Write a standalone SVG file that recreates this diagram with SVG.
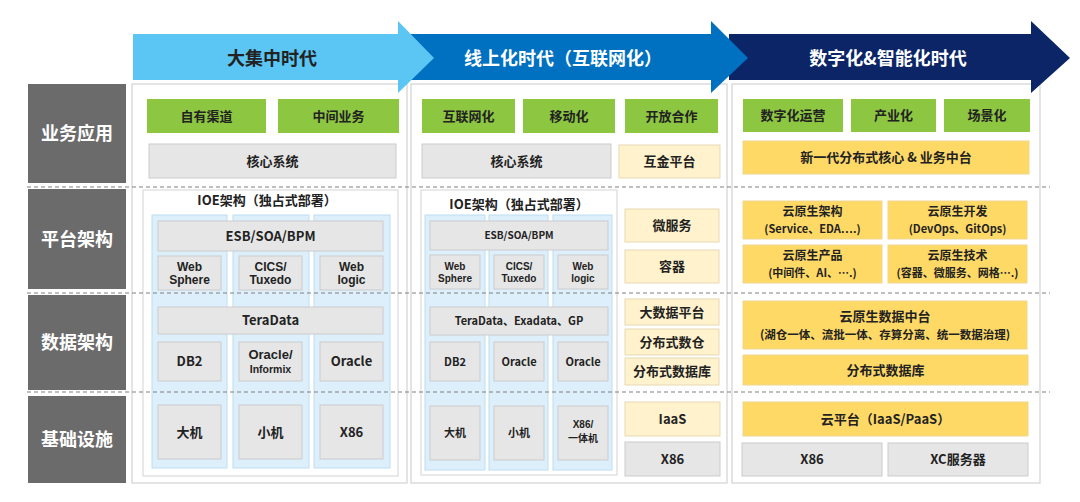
<svg xmlns="http://www.w3.org/2000/svg" width="1080" height="502" viewBox="0 0 1080 502">
<style>
 text{font-family:"Noto Sans CJK SC","Noto Sans",sans-serif;font-weight:700;fill:#222;text-anchor:middle}
 .lat{font-family:"Liberation Sans",Arial,sans-serif}
 .w{fill:#fff}
 .s18{font-size:18px}
 .s13{font-size:13px}
 .s12{font-size:12px}
 .s11{font-size:11px}
 .s10{font-size:10px}
 .n10{font-size:10px;font-weight:600}
 .panel{fill:#fff;stroke:#D3D3D3;stroke-width:1.2}
 .lab{fill:#6B6B6B}
 .g{fill:#8DC641}
 .gr{fill:#E6E6E6;stroke:#CCCCCC}
 .y{fill:#FFD966;stroke:#EDD58F}
 .c{fill:#FFF2CC;stroke:#E6D9B3}
 .lb{fill:#DDEFFB;stroke:#BEDDF2}
 .ioe{fill:#fff;stroke:#D3D3D3}
 .dash{stroke:#808080;stroke-width:1.1;stroke-dasharray:4 3;fill:none}
</style>
<rect x="0" y="0" width="1080" height="502" fill="#fff"/>

<g id="panels">
 <rect class="panel" x="132" y="84" width="275" height="399"/>
 <rect class="panel" x="411" y="84" width="316" height="399"/>
 <rect class="panel" x="732" y="84" width="308" height="399"/>
</g>

<g id="row-labels">
 <g id="row-biz"><rect class="lab" x="28" y="84" width="98" height="99"/><text class="w s18" x="77" y="140">业务应用</text></g>
 <g id="row-platform"><rect class="lab" x="28" y="189" width="98" height="100"/><text class="w s18" x="77" y="245.5">平台架构</text></g>
 <g id="row-data"><rect class="lab" x="28" y="295" width="98" height="95"/><text class="w s18" x="77" y="349">数据架构</text></g>
 <g id="row-infra"><rect class="lab" x="28" y="396" width="98" height="87"/><text class="w s18" x="77" y="446">基础设施</text></g>
</g>

<g id="era1">
 <g id="e1-channel"><rect class="g" x="147" y="99" width="119" height="34"/><text class="s13" x="206.5" y="120.7">自有渠道</text></g>
 <g id="e1-middle"><rect class="g" x="278" y="99" width="121" height="34"/><text class="s13" x="338.5" y="120.7">中间业务</text></g>
 <g id="e1-core"><rect class="gr" x="149" y="144" width="247" height="34"/><text class="s13" x="272.5" y="165.7">核心系统</text></g>
 <g id="e1-ioe">
  <rect class="ioe" x="143" y="190" width="255" height="286"/>
  <text class="s13" x="267" y="205.4">IOE架构（独占式部署）</text>
  <rect class="lb" x="152" y="215" width="75" height="253"/>
  <rect class="lb" x="233" y="215" width="76" height="253"/>
  <rect class="lb" x="314" y="215" width="76" height="253"/>
 </g>
 <g id="e1-esb"><rect class="gr" x="158" y="221" width="225" height="30"/><text class="s13" x="270.5" y="240.7">ESB/SOA/BPM</text></g>
 <g id="e1-websphere"><rect class="gr" x="158" y="256" width="63" height="34"/><text class="lat s12" x="189.5" y="270.5">Web</text><text class="lat s12" x="189.5" y="284">Sphere</text></g>
 <g id="e1-cics"><rect class="gr" x="239" y="256" width="63" height="34"/><text class="lat s12" x="270.5" y="270.5">CICS/</text><text class="lat s12" x="270.5" y="284">Tuxedo</text></g>
 <g id="e1-weblogic"><rect class="gr" x="320" y="256" width="63" height="34"/><text class="lat s12" x="351.5" y="270.5">Web</text><text class="lat s12" x="351.5" y="284">logic</text></g>
 <g id="e1-teradata"><rect class="gr" x="158" y="307" width="225" height="27"/><text class="s13" x="270.5" y="325.2">TeraData</text></g>
 <g id="e1-db2"><rect class="gr" x="158" y="342" width="63" height="39"/><text class="s13" x="189.5" y="366.2">DB2</text></g>
 <g id="e1-oracle-informix"><rect class="gr" x="239" y="342" width="63" height="39"/><text class="lat" x="270.5" y="359" style="font-size:13px">Oracle/</text><text class="lat" x="270.5" y="372.5" style="font-size:10.5px">Informix</text></g>
 <g id="e1-oracle"><rect class="gr" x="320" y="342" width="63" height="39"/><text class="s13" x="351.5" y="366.2">Oracle</text></g>
 <g id="e1-mainframe"><rect class="gr" x="158" y="405" width="63" height="54"/><text class="s13" x="189.5" y="436.7">大机</text></g>
 <g id="e1-mini"><rect class="gr" x="239" y="405" width="63" height="54"/><text class="s13" x="270.5" y="436.7">小机</text></g>
 <g id="e1-x86"><rect class="gr" x="320" y="405" width="63" height="54"/><text class="s13" x="351.5" y="436.7">X86</text></g>
</g>

<g id="era2">
 <g id="e2-internet"><rect class="g" x="422" y="99" width="93" height="34"/><text class="s13" x="468.5" y="120.7">互联网化</text></g>
 <g id="e2-mobile"><rect class="g" x="523" y="99" width="92" height="34"/><text class="s13" x="569" y="120.7">移动化</text></g>
 <g id="e2-open"><rect class="g" x="625" y="99" width="93" height="34"/><text class="s13" x="671.5" y="120.7">开放合作</text></g>
 <g id="e2-core"><rect class="gr" x="422" y="144" width="189" height="34"/><text class="s13" x="516.5" y="165.7">核心系统</text></g>
 <g id="e2-fintech"><rect class="c" x="619" y="145" width="101" height="33"/><text class="s13" x="669.5" y="166.2">互金平台</text></g>
 <g id="e2-ioe">
  <rect class="ioe" x="421" y="190" width="196" height="285"/>
  <text class="s13" x="519" y="208.7">IOE架构（独占式部署）</text>
  <rect class="lb" x="425" y="215" width="60" height="255"/>
  <rect class="lb" x="489" y="215" width="59" height="255"/>
  <rect class="lb" x="553" y="215" width="59" height="255"/>
 </g>
 <g id="e2-esb"><rect class="gr" x="430" y="221" width="178" height="29"/><text class="n10" x="519" y="239.1">ESB/SOA/BPM</text></g>
 <g id="e2-websphere"><rect class="gr" x="430" y="255" width="50" height="34"/><text class="lat s10" x="455" y="270">Web</text><text class="lat s10" x="455" y="281.5">Sphere</text></g>
 <g id="e2-cics"><rect class="gr" x="494" y="255" width="50" height="34"/><text class="lat s10" x="519" y="270">CICS/</text><text class="lat s10" x="519" y="281.5">Tuxedo</text></g>
 <g id="e2-weblogic"><rect class="gr" x="558" y="255" width="50" height="34"/><text class="lat s10" x="583" y="270">Web</text><text class="lat s10" x="583" y="281.5">logic</text></g>
 <g id="e2-teradata"><rect class="gr" x="430" y="307" width="178" height="28"/><text class="s11" x="519" y="325">TeraData、Exadata、GP</text></g>
 <g id="e2-db2"><rect class="gr" x="430" y="342" width="50" height="39"/><text class="s11" x="455" y="365.5">DB2</text></g>
 <g id="e2-oracle1"><rect class="gr" x="494" y="342" width="50" height="39"/><text class="s11" x="519" y="365.5">Oracle</text></g>
 <g id="e2-oracle2"><rect class="gr" x="558" y="342" width="50" height="39"/><text class="s11" x="583" y="365.5">Oracle</text></g>
 <g id="e2-mainframe"><rect class="gr" x="430" y="406" width="50" height="54"/><text class="s11" x="455" y="437">大机</text></g>
 <g id="e2-mini"><rect class="gr" x="494" y="406" width="50" height="54"/><text class="s11" x="519" y="437">小机</text></g>
 <g id="e2-x86aio"><rect class="gr" x="558" y="406" width="50" height="54"/><text class="lat s10" x="583" y="427.5">X86/</text><text class="s10" x="583" y="441.5">一体机</text></g>
 <g id="e2-microservice"><rect class="c" x="625" y="209" width="94" height="33"/><text class="s13" x="672" y="230.2">微服务</text></g>
 <g id="e2-container"><rect class="c" x="625" y="250" width="94" height="33"/><text class="s13" x="672" y="271.2">容器</text></g>
 <g id="e2-bigdata"><rect class="c" x="625" y="299" width="94" height="26"/><text class="s13" x="672" y="316.7">大数据平台</text></g>
 <g id="e2-dw"><rect class="c" x="625" y="329" width="94" height="26"/><text class="s13" x="672" y="346.7">分布式数仓</text></g>
 <g id="e2-ddb"><rect class="c" x="625" y="358" width="94" height="27"/><text class="s13" x="672" y="376.2">分布式数据库</text></g>
 <g id="e2-iaas"><rect class="c" x="625" y="402" width="95" height="34"/><text class="s13" x="672.5" y="423.7">IaaS</text></g>
 <g id="e2-x86"><rect class="gr" x="625" y="442" width="95" height="34"/><text class="s13" x="672.5" y="463.7">X86</text></g>
</g>

<g id="era3">
 <g id="e3-digital-ops"><rect class="g" x="743" y="99" width="100" height="33"/><text class="s13" x="793" y="120.2">数字化运营</text></g>
 <g id="e3-industry"><rect class="g" x="851" y="99" width="85" height="33"/><text class="s13" x="893.5" y="120.2">产业化</text></g>
 <g id="e3-scene"><rect class="g" x="944" y="99" width="86" height="33"/><text class="s13" x="987" y="120.2">场景化</text></g>
 <g id="e3-core"><rect class="y" x="743" y="141" width="286" height="33"/><text class="s13" x="886" y="162.2">新一代分布式核心 &amp; 业务中台</text></g>
 <g id="e3-cn-arch"><rect class="y" x="743" y="201" width="139" height="38"/><text class="s12" x="812.5" y="216">云原生架构</text><text class="s11" x="812.5" y="232.5">(Service、EDA….)</text></g>
 <g id="e3-cn-dev"><rect class="y" x="888" y="201" width="139" height="38"/><text class="s12" x="957.5" y="216">云原生开发</text><text class="s11" x="957.5" y="232.5">(DevOps、GitOps)</text></g>
 <g id="e3-cn-product"><rect class="y" x="743" y="245" width="139" height="38"/><text class="s12" x="812.5" y="260">云原生产品</text><text class="s11" x="812.5" y="276.5">(中间件、AI、….)</text></g>
 <g id="e3-cn-tech"><rect class="y" x="888" y="245" width="139" height="38"/><text class="s12" x="957.5" y="260">云原生技术</text><text class="s11" x="957.5" y="276.5">(容器、微服务、网格….)</text></g>
 <g id="e3-data-platform"><rect class="y" x="743" y="301" width="284" height="48"/><text class="s13" x="885" y="321">云原生数据中台</text><text x="885" y="338.5" style="font-size:11.5px">(湖仓一体、流批一体、存算分离、统一数据治理)</text></g>
 <g id="e3-ddb"><rect class="y" x="743" y="355" width="285" height="30"/><text class="s13" x="885.5" y="374.7">分布式数据库</text></g>
 <g id="e3-cloud"><rect class="y" x="743" y="402" width="285" height="34"/><text class="s13" x="885.5" y="423.7">云平台（IaaS/PaaS）</text></g>
 <g id="e3-x86"><rect class="gr" x="742" y="443" width="140" height="33"/><text class="s13" x="812" y="464.2">X86</text></g>
 <g id="e3-xc"><rect class="gr" x="888" y="443" width="140" height="33"/><text class="s13" x="958" y="464.2">XC服务器</text></g>
</g>

<g id="row-dividers">
 <line class="dash" x1="27" y1="187" x2="1050" y2="187"/>
 <line class="dash" x1="27" y1="293" x2="1050" y2="293"/>
 <line class="dash" x1="27" y1="392" x2="1050" y2="392"/>
</g>

<g id="era-arrows">
 <g id="arrow-era3"><polygon fill="#0B2566" points="729,34 1031,34 1031,21 1070,58 1031,93 1031,80 729,80"/><text class="w s18" x="888" y="64.5">数字化&amp;智能化时代</text></g>
 <g id="arrow-era2"><polygon fill="#0070C0" points="398,34 711,34 711,21 748,58 711,93 711,80 398,80"/><text class="w s18" x="563" y="64.5">线上化时代（互联网化）</text></g>
 <g id="arrow-era1"><polygon fill="#5BC5F4" points="133,34 398,34 398,21 434,58 398,93 398,80 133,80"/><text class="s18" x="272" y="64.5">大集中时代</text></g>
</g>
</svg>
